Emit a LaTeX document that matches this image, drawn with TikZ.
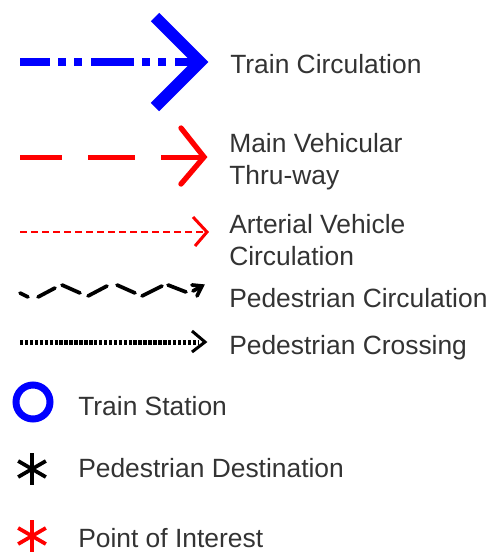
\documentclass[tikz,border=0pt]{standalone}
\usepackage{fontspec}
\setmainfont{Liberation Sans}
\definecolor{tblue}{RGB}{0,0,255}
\definecolor{tred}{RGB}{255,0,0}
\definecolor{txt}{RGB}{51,51,51}
\begin{document}
\begin{tikzpicture}[x=0.75pt,y=-0.75pt,
  lbl/.style={anchor=base west, inner sep=0pt, text=txt, font=\fontsize{19.8}{23}\selectfont},
  trainline/.style={draw=tblue, line width=6pt, dash pattern=on 32.25pt off 6pt on 6pt off 6pt on 6pt off 6.75pt, dash phase=9.75pt},
  trainhead/.style={draw=tblue, line width=9pt, miter limit=10},
  mainline/.style={draw=tred, line width=3.75pt, dash pattern=on 35.25pt off 19.5pt, dash phase=3.75pt},
  mainhead/.style={draw=tred, line width=4pt, line cap=round, line join=miter},
  artline/.style={draw=tred, line width=1.9pt, dash pattern=on 5.25pt off 3pt},
  arthead/.style={draw=tred, line width=2.25pt},
  pedline/.style={draw=black, line width=2.8pt, line cap=round},
  crossline/.style={draw=black, line width=3.75pt, dash pattern=on 2.6pt off 1.1pt},
  crosshead/.style={draw=black, line width=2.25pt},
  station/.style={draw=tblue, line width=5.25pt},
  asterisk/.style={line width=2.8pt}
]
\useasboundingbox (0,0) rectangle (494,554);

% ---- Train Circulation
\coordinate (a1s) at (20,62);
\coordinate (a1e) at (203,62);
\coordinate (a1t) at (200,62);
\draw[trainline] (a1s) -- (a1e);
\draw[trainhead] (a1t) ++(-45,-45) -- (a1t) -- ++(-45,45);
\node[lbl] (t1) at (230,73) {Train Circulation};

% ---- Main Vehicular Thru-way
\coordinate (a2s) at (20,157);
\coordinate (a2e) at (204,157);
\draw[mainline] (a2s) -- (a2e);
\draw[mainhead] (a2e) ++(-23,-29) -- (a2e) -- ++(-23,27);
\node[lbl] (t2a) at (229,152) {Main Vehicular};
\node[lbl] (t2b) at (229,184) {Thru-way};

% ---- Arterial Vehicle Circulation
\coordinate (a3s) at (20,232);
\coordinate (a3e) at (207,232);
\draw[artline] (a3s) -- (a3e);
\draw[arthead] (a3e) ++(-14,-15) -- (a3e) -- ++(-12,14);
\node[lbl] (t3a) at (229,233) {Arterial Vehicle};
\node[lbl] (t3b) at (229,265) {Circulation};

% ---- Pedestrian Circulation
\draw[pedline] (20,293) -- (28,297);
\draw[pedline] (38,297) -- (55,288);
\draw[pedline] (62,285) -- (80,293);
\draw[pedline] (88,296) -- (107,286);
\draw[pedline] (117,285) -- (135,293);
\draw[pedline] (142,296) -- (162,286);
\draw[pedline] (168,285) -- (186,292);
\coordinate (a4e) at (202,286);
\draw[pedline, line join=miter] (192,285) -- (a4e) -- (197,296);
\draw[pedline] (193,291) -- (a4e);
\node[lbl] (t4) at (229,307) {Pedestrian Circulation};

% ---- Pedestrian Crossing
\coordinate (a5s) at (20,342);
\coordinate (a5e) at (205,342);
\draw[crossline] (a5s) -- (198,342);
\draw[crosshead] (a5e) ++(-13,-11) -- (a5e) -- ++(-13,10);
\node[lbl] (t5) at (229,354) {Pedestrian Crossing};

% ---- Train Station
\coordinate (c6) at (33,402);
\draw[station] (c6) circle[radius=12.75pt];
\node[lbl] (t6) at (78,415) {Train Station};

% ---- Pedestrian Destination
\coordinate (c7) at (32,469);
\draw[asterisk, draw=black] (c7) ++(90:12pt) -- ++(270:24pt);
\draw[asterisk, draw=black] (c7) ++(30:12pt) -- ++(210:24pt);
\draw[asterisk, draw=black] (c7) ++(150:12pt) -- ++(330:24pt);
\node[lbl] (t7) at (78,477) {Pedestrian Destination};

% ---- Point of Interest
\coordinate (c8) at (32,536);
\draw[asterisk, draw=tred] (c8) ++(90:12pt) -- ++(270:24pt);
\draw[asterisk, draw=tred] (c8) ++(30:12pt) -- ++(210:24pt);
\draw[asterisk, draw=tred] (c8) ++(150:12pt) -- ++(330:24pt);
\node[lbl] (t8) at (78,547) {Point of Interest};
\end{tikzpicture}
\end{document}
